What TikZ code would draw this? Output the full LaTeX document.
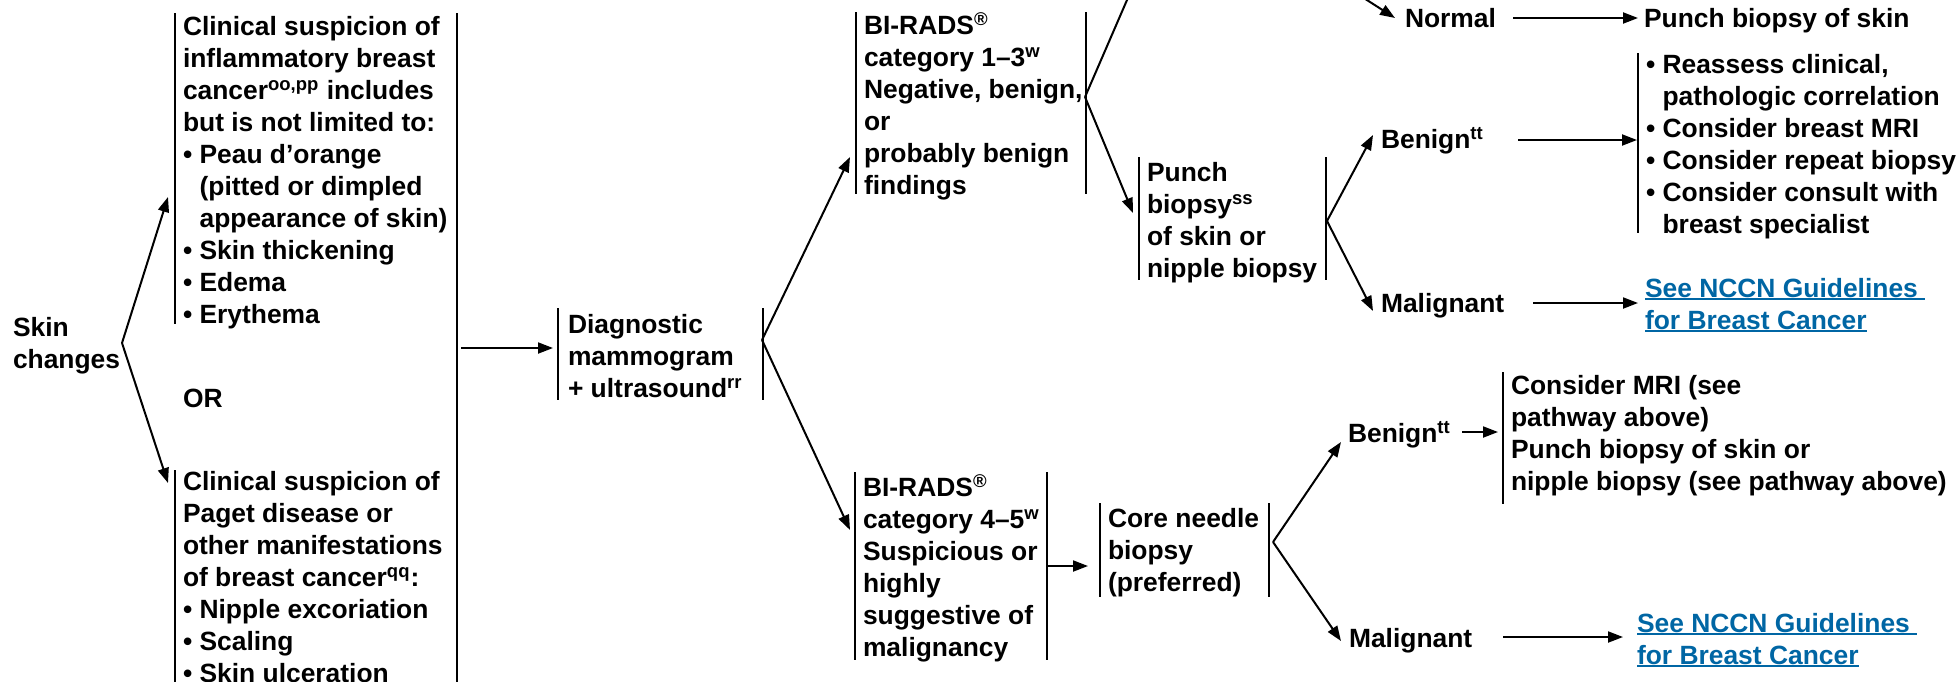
\documentclass[tikz,border=0pt]{standalone}
\usepackage{fontspec}
\setmainfont{Liberation Sans}
\usetikzlibrary{arrows.meta}
\definecolor{linkblue}{RGB}{0,102,164}
\newcommand\dfont{\fontsize{13.2pt}{16pt}\selectfont\bfseries}
% #1 width, #2 box height, #3 height of first line (top to baseline), #4 lines
\newcommand\boxtxt[4]{\parbox[b][#2][t]{#1}{\raggedright\rule{0pt}{#3}#4}}
\newcommand\undl[1]{\leavevmode\setbox0\hbox{#1}\rlap{\rule[-1.6pt]{\wd0}{0.9pt}}\box0}
\newcommand\ind{\hphantom{• }}
\begin{document}
\begin{tikzpicture}[x=0.5pt,y=-0.5pt,line width=1pt,
  bx/.style={anchor=north west,inner ysep=0pt,inner xsep=3.5pt,font=\dfont},
  tn/.style={anchor=base west,inner sep=0pt,font=\dfont},
  arr/.style={-{Triangle[length=7.5pt,width=5.5pt]}}]
\useasboundingbox (0,0) rectangle (1957,681);
\clip (0,0) rectangle (1957,681);

% ---------- nodes ----------
\node[bx,inner xsep=0pt] (skin) at (12,315) {\boxtxt{54pt}{27pt}{10pt}{Skin\\changes}};

\node[bx] (ibc) at (175,13) {\boxtxt{133pt}{154.5pt}{10.5pt}{%
\mbox{Clinical suspicion of}\\
\mbox{inflammatory breast}\\
\mbox{cancer\textsuperscript{oo,pp} includes}\\
\mbox{but is not limited to:}\\
\mbox{• Peau d’orange}\\
\mbox{\ind(pitted or dimpled}\\
\mbox{\ind appearance of skin)}\\
\mbox{• Skin thickening}\\
\mbox{• Edema}\\
\mbox{• Erythema}}};

\node[tn] (or) at (182,407) {OR};

\node[bx] (paget) at (175,470) {\boxtxt{133pt}{105.5pt}{9.75pt}{%
\mbox{Clinical suspicion of}\\
\mbox{Paget disease or}\\
\mbox{other manifestations}\\
\mbox{of breast cancer\textsuperscript{qq}:}\\
\mbox{• Nipple excoriation}\\
\mbox{• Scaling}\\
\mbox{• Skin ulceration}}};

\node[bx,inner xsep=4.5pt] (diag) at (558,308) {\boxtxt{92.5pt}{45pt}{12pt}{%
\mbox{Diagnostic}\\
\mbox{mammogram}\\
\mbox{+ ultrasound\textsuperscript{rr}}}};

\node[bx] (bir13) at (856,12) {\boxtxt{107pt}{90pt}{10pt}{%
\mbox{BI-RADS\textsuperscript{®}}\\
\mbox{category 1–3\textsuperscript{w}}\\
\mbox{Negative, benign,}\\
\mbox{or}\\
\mbox{probably benign}\\
\mbox{findings}}};

\node[bx] (bir45) at (855,472) {\boxtxt{88pt}{93pt}{11.5pt}{%
\mbox{BI-RADS\textsuperscript{®}}\\
\mbox{category 4–5\textsuperscript{w}}\\
\mbox{Suspicious or}\\
\mbox{highly}\\
\mbox{suggestive of}\\
\mbox{malignancy}}};

\node[bx] (punch) at (1139,157) {\boxtxt{85.5pt}{60.5pt}{11.5pt}{%
\mbox{Punch}\\
\mbox{biopsy\textsuperscript{ss}}\\
\mbox{of skin or}\\
\mbox{nipple biopsy}}};

\node[bx] (core) at (1100,503) {\boxtxt{76.5pt}{46pt}{11.5pt}{%
\mbox{Core needle}\\
\mbox{biopsy}\\
\mbox{(preferred)}}};

\node[tn] (normal) at (1404,27) {Normal};
\node[tn] (pskin) at (1643,27) {Punch biopsy of skin};

\node[tn] (ben1) at (1380,148) {Benign\textsuperscript{tt}};
\node[tn] (mal1) at (1380,312) {Malignant};

\node[bx] (list) at (1638,53) {\boxtxt{160pt}{89pt}{9.5pt}{%
\mbox{• Reassess clinical,}\\
\mbox{\ind pathologic correlation}\\
\mbox{• Consider breast MRI}\\
\mbox{• Consider repeat biopsy}\\
\mbox{• Consider consult with}\\
\mbox{\ind breast specialist}}};

\node[bx,inner xsep=0pt,text=linkblue] (nccn1) at (1644,276) {\boxtxt{150pt}{32pt}{10pt}{%
\undl{See NCCN Guidelines\ }\\
\undl{for Breast Cancer}}};

\node[tn] (ben2) at (1347,442) {Benign\textsuperscript{tt}};
\node[tn] (mal2) at (1348,647) {Malignant};

\node[bx] (cons) at (1503,372) {\boxtxt{225pt}{65pt}{10.5pt}{%
\mbox{Consider MRI (see}\\
\mbox{pathway above)}\\
\mbox{Punch biopsy of skin or}\\
\mbox{nipple biopsy (see pathway above)}}};

\node[bx,inner xsep=0pt,text=linkblue] (nccn2) at (1636,611) {\boxtxt{150pt}{32pt}{10pt}{%
\undl{See NCCN Guidelines\ }\\
\undl{for Breast Cancer}}};

% ---------- bars ----------
\draw (ibc.north west) -- (ibc.south west);
\draw (ibc.north east) -- (paget.south east);
\draw (paget.north west) -- (paget.south west);
\foreach \n in {diag,bir13,bir45,punch,core}{
  \draw (\n.north west) -- (\n.south west);
  \draw (\n.north east) -- (\n.south east);
}
\draw (list.north west) -- (list.south west);
\draw (cons.north west) -- (cons.south west);

% ---------- connector points ----------
\coordinate (ibcin) at (168,197);
\coordinate (pagetin) at (168,483);
\coordinate (bigout) at (461,348);
\coordinate (diagin) at (553,348);
\coordinate (vdiag) at (762,340);
\coordinate (b13in) at (850,157);
\coordinate (b45in) at (850,530);
\coordinate (vb13) at (1085,97);
\coordinate (offtop1) at (1140,-30);
\coordinate (punchin) at (1133,213);
\coordinate (offtop2) at (1320,-30);
\coordinate (normin) at (1395,18);
\coordinate (normout) at (1513,18);
\coordinate (pskinin) at (1638,18);
\coordinate (vpunch) at (1327,221);
\coordinate (ben1in) at (1373,135);
\coordinate (mal1in) at (1373,311);
\coordinate (ben1out) at (1518,140);
\coordinate (listin) at (1637,140);
\coordinate (mal1out) at (1533,303);
\coordinate (nccn1in) at (1638,303);
\coordinate (b45out) at (1046,566);
\coordinate (corein) at (1088,566);
\coordinate (vcore) at (1273,542);
\coordinate (ben2in) at (1341,442);
\coordinate (mal2in) at (1341,641);
\coordinate (ben2out) at (1462,432);
\coordinate (consin) at (1498,432);
\coordinate (mal2out) at (1503,637);
\coordinate (nccn2in) at (1623,637);

% ---------- connectors ----------
\draw[arr] (skin.east) -- (ibcin);
\draw[arr] (skin.east) -- (pagetin);
\draw[arr] (bigout) -- (diagin);
\draw[arr] (vdiag) -- (b13in);
\draw[arr] (vdiag) -- (b45in);
\draw (vb13) -- (offtop1);
\draw[arr] (vb13) -- (punchin);
\draw[arr] (offtop2) -- (normin);
\draw[arr] (normout) -- (pskinin);
\draw[arr] (vpunch) -- (ben1in);
\draw[arr] (vpunch) -- (mal1in);
\draw[arr] (ben1out) -- (listin);
\draw[arr] (mal1out) -- (nccn1in);
\draw[arr] (b45out) -- (corein);
\draw[arr] (vcore) -- (ben2in);
\draw[arr] (vcore) -- (mal2in);
\draw[arr] (ben2out) -- (consin);
\draw[arr] (mal2out) -- (nccn2in);
\end{tikzpicture}
\end{document}
